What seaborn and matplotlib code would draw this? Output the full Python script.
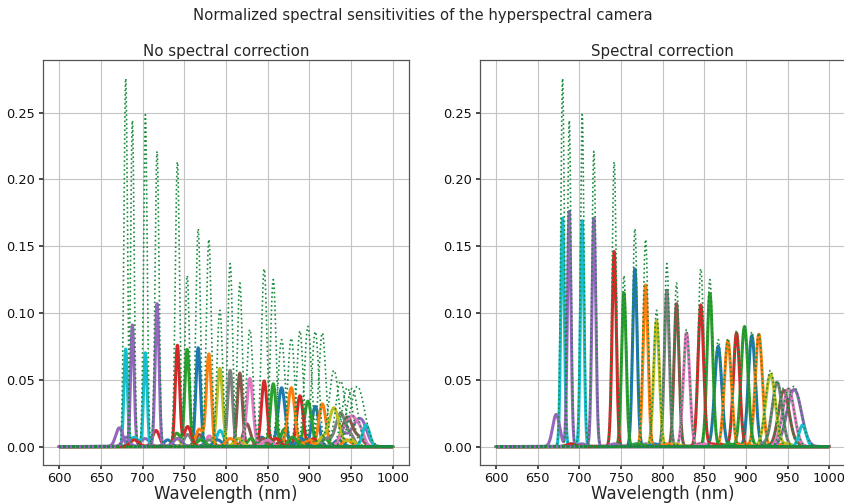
import numpy as np
import pandas as pd
import matplotlib
matplotlib.use("Agg")
import matplotlib.pyplot as plt
import seaborn as sns

# ---- data (band order follows the colour cycle) ----
centers = [907.1, 915.5, 898.3, 888.7, 957.6,
           945.5, 951.2, 937.5, 929.5, 679.7,
           866.7, 878.3, 856.7, 845.8, 687.7,
           816.6, 828.6, 805.0, 792.6, 703.3,
           766.6, 779.4, 753.4, 741.7, 717.3]
fwhm = [10, 10, 10, 9, 20,
        15, 16, 14, 14, 5,
        10, 10, 8, 8, 5,
        7, 9, 7, 8, 5,
        6.5, 7, 6.5, 6, 5.5]
ideal_heights = [0.086, 0.085, 0.090, 0.0866, 0.045,
                 0.044, 0.0434, 0.049, 0.057, 0.2755,
                 0.080, 0.081, 0.125, 0.133, 0.244,
                 0.1225, 0.0876, 0.137, 0.102, 0.2485,
                 0.163, 0.155, 0.128, 0.213, 0.221]
raw_heights = [0.030, 0.032, 0.034, 0.038, 0.018,
               0.022, 0.022, 0.025, 0.029, 0.073,
               0.044, 0.044, 0.047, 0.049, 0.091,
               0.055, 0.051, 0.057, 0.0586, 0.070,
               0.074, 0.069, 0.0726, 0.0756, 0.107]
raw_sec_centers = [880, 895, 870, 905, 940,
                   825, 962, 950, 915, 793,
                   843, 860, 830, 716, 672,
                   768, 780, 754, 741, 968,
                   730, 768, 741, 754, 680]
raw_sec_heights = [0.007, 0.006, 0.013, 0.006, 0.008,
                   0.017, 0.008, 0.007, 0.006, 0.012,
                   0.007, 0.006, 0.006, 0.012, 0.014,
                   0.009, 0.008, 0.009, 0.006, 0.016,
                   0.005, 0.013, 0.010, 0.015, 0.007]
raw_sec2_centers = [935, 945, 918, 868, 965,
                    960, 940, 920, 950, 768,
                    890, 900, 880, 860, 703,
                    845, 850, 780, 815, 690,
                    790, 805, 770, 690, 742]
raw_sec2_heights = [0.005, 0.005, 0.006, 0.005, 0.006,
                    0.006, 0.007, 0.006, 0.005, 0.006,
                    0.006, 0.005, 0.007, 0.006, 0.006,
                    0.006, 0.005, 0.005, 0.006, 0.007,
                    0.005, 0.006, 0.005, 0.005, 0.006]
corr_heights = [0.083, 0.084, 0.0898, 0.085, 0.042,
                0.042, 0.043, 0.048, 0.054, 0.171,
                0.075, 0.079, 0.1145, 0.106, 0.176,
                0.107, 0.085, 0.117, 0.094, 0.169,
                0.133, 0.121, 0.115, 0.146, 0.171]
corr_sec_centers = raw_sec_centers
corr_sec_heights = [0.0, 0.0, 0.0, 0.0, 0.0,
                    0.0, 0.0, 0.0, 0.0, 0.0,
                    0.0, 0.0, 0.0, 0.0, 0.024,
                    0.0, 0.0, 0.0, 0.0, 0.016,
                    0.0, 0.0, 0.0, 0.0, 0.0]
corr_sec2_heights = [0.002, 0.002, 0.002, 0.002, 0.002,
                     0.002, 0.002, 0.002, 0.002, 0.002,
                     0.002, 0.002, 0.002, 0.002, 0.002,
                     0.002, 0.002, 0.002, 0.002, 0.002,
                     0.002, 0.002, 0.002, 0.002, 0.002]
wl_start, wl_stop = 600, 1000
titles = ["No spectral correction", "Spectral correction"]
suptitle = "Normalized spectral sensitivities of the hyperspectral camera"
xlabel = "Wavelength (nm)"

# ---- style ----
sns.set_theme(style="whitegrid")
plt.rcParams.update({
    "font.family": ["DejaVu Sans"],
    "axes.edgecolor": "#555555",
    "axes.linewidth": 0.9,
    "grid.color": "#c4c4c4",
    "grid.linewidth": 0.8,
    "xtick.bottom": True,
    "ytick.left": True,
    "xtick.color": "#333333",
    "ytick.color": "#333333",
    "xtick.labelcolor": "#111111",
    "ytick.labelcolor": "#111111",
    "xtick.major.size": 3.0,
    "ytick.major.size": 3.0,
    "xtick.major.pad": 2.0,
    "ytick.major.pad": 2.5,
    "xtick.labelsize": 9.3,
    "ytick.labelsize": 9.3,
})

wl = np.arange(wl_start, wl_stop + 0.001, 0.25)
k = 4 * np.log(2)


def peak(c, h, w):
    return h * np.exp(-k * (wl - c) ** 2 / w ** 2)


palette = sns.color_palette("tab10", 10)

fig = plt.figure(figsize=(8.45, 5.04), dpi=100)
ax1 = fig.add_axes([42.6 / 845, 1 - 465 / 504, (409.4 - 42.6) / 845, 405 / 504])
ax2 = fig.add_axes([479.6 / 845, 1 - 465 / 504, (845.8 - 479.6) / 845, 405 / 504])

sets = [(ax1, raw_heights, raw_sec_centers, raw_sec_heights, raw_sec2_heights),
        (ax2, corr_heights, corr_sec_centers, corr_sec_heights, corr_sec2_heights)]

for ax, heights, sc, sh, sh2 in sets:
    for i in range(len(centers)):
        y = (peak(centers[i], heights[i], fwhm[i]) + peak(sc[i], sh[i], 10)
             + peak(raw_sec2_centers[i], sh2[i], 12))
        sns.lineplot(x=wl, y=y, ax=ax, color=palette[i % 10], linewidth=2.2,
                     legend=False, estimator=None, sort=False)
    for i in range(len(centers)):
        y = peak(centers[i], ideal_heights[i], fwhm[i])
        sns.lineplot(x=wl, y=y, ax=ax, color="#1a8a3c", linewidth=1.2,
                     linestyle=":", legend=False, estimator=None, sort=False)

for ax, t in zip([ax1, ax2], titles):
    ax.set_xlim(580, 1020)
    ax.set_ylim(-0.0138, 0.2893)
    ax.set_xticks(np.arange(600, 1001, 50))
    ax.set_yticks(np.arange(0, 0.251, 0.05))
    ax.yaxis.set_major_formatter(matplotlib.ticker.FormatStrFormatter("%.2f"))
    ax.set_title(t, fontsize=10.8, pad=3)
    ax.set_xlabel(xlabel, fontsize=12, labelpad=0)
    ax.set_ylabel("")
    ax.grid(True)

fig.suptitle(suptitle, fontsize=10.7, y=0.97, va="center")
fig.savefig("out.png", dpi=100)
